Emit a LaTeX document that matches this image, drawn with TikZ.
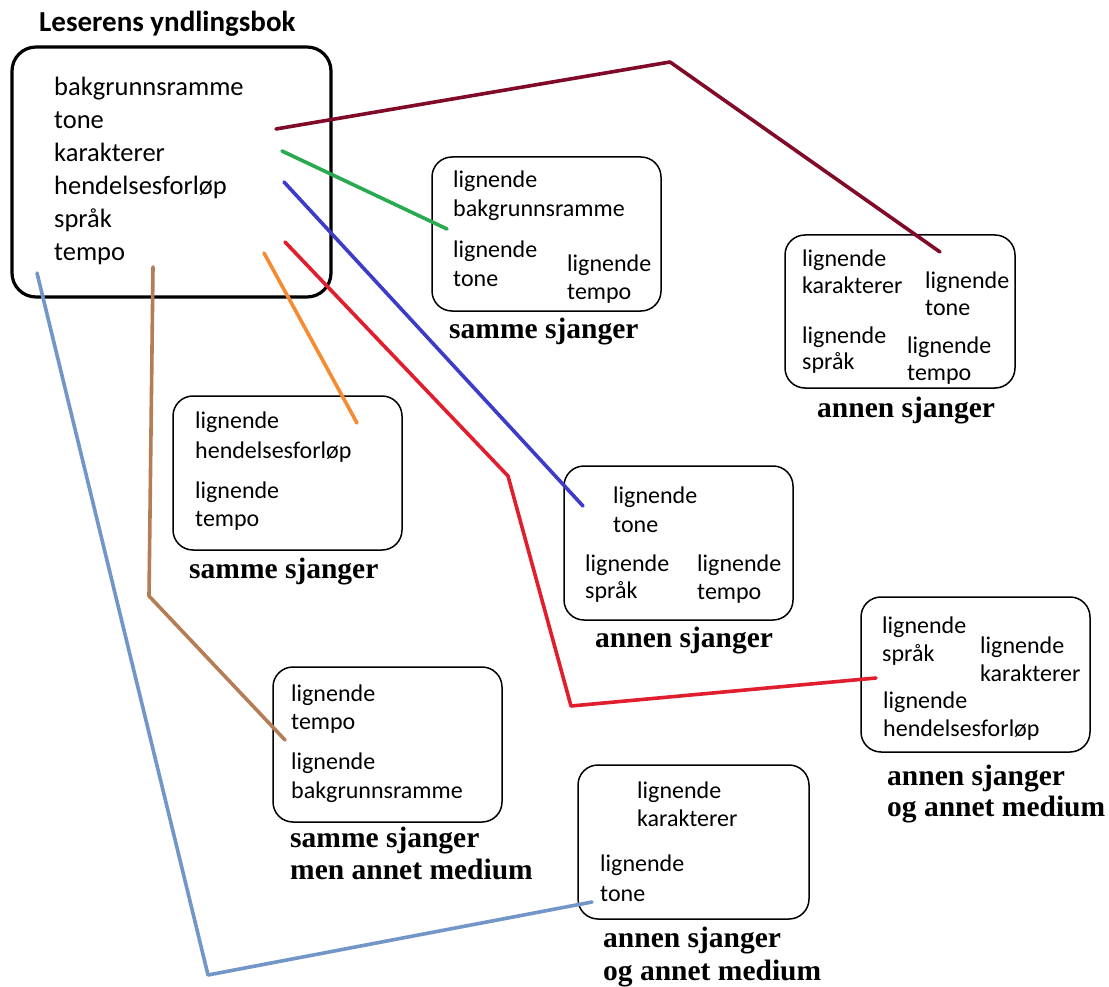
\documentclass[tikz,border=0pt]{standalone}
\usepackage{fontspec}
\setmainfont{Liberation Serif}
\newfontfamily\bodyfont{Carlito}

\definecolor{cTone}{RGB}{128,10,40}
\definecolor{cKar}{RGB}{40,170,80}
\definecolor{cHend}{RGB}{60,60,200}
\definecolor{cSprak}{RGB}{225,30,45}
\definecolor{cTempo}{RGB}{245,140,50}
\definecolor{cBrun}{RGB}{180,125,85}
\definecolor{cStal}{RGB}{115,150,200}

\begin{document}
\begin{tikzpicture}[x=1pt,y=-1pt,
  txt/.style={anchor=base west, inner sep=0pt, font=\bodyfont\fontsize{24}{29}\selectfont},
  maintxt/.style={anchor=base west, inner sep=0pt, font=\bodyfont\fontsize{26.5}{32}\selectfont},
  titletxt/.style={anchor=base west, inner sep=0pt, font=\bodyfont\bfseries\fontsize{29}{34}\selectfont},
  lbl/.style={anchor=base west, inner sep=0pt, font=\bfseries\fontsize{29.5}{32}\selectfont},
  frame/.style={draw, line width=1.5pt, rounded corners=20pt},
  mainframe/.style={draw, line width=3.2pt, rounded corners=24pt},
  link/.style={line width=3.6pt, line join=round, line cap=round}]

\useasboundingbox[fill=white] (0,0) rectangle (1109,987);

% --- main box -----------------------------------------------------------
\node[titletxt] (title) at (39,32) {Leserens yndlingsbok};
\draw[mainframe] (12,47) rectangle (331,297);
\node[maintxt] (m1) at (54,96)  {bakgrunnsramme};
\node[maintxt] (m2) at (54,129) {tone};
\node[maintxt] (m3) at (54,162) {karakterer};
\node[maintxt] (m4) at (54,195) {hendelsesforløp};
\node[maintxt] (m5) at (54,228) {språk};
\node[maintxt] (m6) at (54,261) {tempo};

% --- box A: samme sjanger -----------------------------------------------
\draw[frame] (432,157) rectangle (661,311);
\node[txt] (a1) at (453,188) {lignende};
\node[txt] (a2) at (453,217) {bakgrunnsramme};
\node[txt] (a3) at (453,258) {lignende};
\node[txt] (a4) at (453,287) {tone};
\node[txt] (a5) at (567,272) {lignende};
\node[txt] (a6) at (567,299) {tempo};
\node[lbl] (la) at (449,338) {samme sjanger};

% --- box B: annen sjanger -----------------------------------------------
\draw[frame] (785,235) rectangle (1015,388);
\node[txt] (b1) at (802,266) {lignende};
\node[txt] (b2) at (802,294) {karakterer};
\node[txt] (b3) at (925,288) {lignende};
\node[txt] (b4) at (925,316) {tone};
\node[txt] (b5) at (802,343) {lignende};
\node[txt] (b6) at (802,369) {språk};
\node[txt] (b7) at (907,353) {lignende};
\node[txt] (b8) at (907,380) {tempo};
\node[lbl] (lb) at (817,417) {annen sjanger};

% --- box C: samme sjanger -----------------------------------------------
\draw[frame] (173,396) rectangle (402,550);
\node[txt] (c1) at (195,428) {lignende};
\node[txt] (c2) at (195,458) {hendelsesforløp};
\node[txt] (c3) at (195,498) {lignende};
\node[txt] (c4) at (195,526) {tempo};
\node[lbl] (lc) at (189,578) {samme sjanger};

% --- box D: annen sjanger -----------------------------------------------
\draw[frame] (564,466) rectangle (793,620);
\node[txt] (d1) at (613,503) {lignende};
\node[txt] (d2) at (613,532) {tone};
\node[txt] (d3) at (585,571) {lignende};
\node[txt] (d4) at (585,598) {språk};
\node[txt] (d5) at (697,571) {lignende};
\node[txt] (d6) at (697,599) {tempo};
\node[lbl] (ld) at (595,647) {annen sjanger};

% --- box E: annen sjanger og annet medium -------------------------------
\draw[frame] (861,597) rectangle (1090,752);
\node[txt] (e1) at (882,633) {lignende};
\node[txt] (e2) at (882,661) {språk};
\node[txt] (e3) at (980,653) {lignende};
\node[txt] (e4) at (980,681) {karakterer};
\node[txt] (e5) at (883,708) {lignende};
\node[txt] (e6) at (883,736) {hendelsesforløp};
\node[lbl] (le1) at (887,785) {annen sjanger};
\node[lbl] (le2) at (887,816) {og annet medium};

% --- box F: samme sjanger men annet medium ------------------------------
\draw[frame] (273,667) rectangle (502,822);
\node[txt] (f1) at (291,701) {lignende};
\node[txt] (f2) at (291,729) {tempo};
\node[txt] (f3) at (291,769) {lignende};
\node[txt] (f4) at (291,798) {bakgrunnsramme};
\node[lbl] (lf1) at (290,847) {samme sjanger};
\node[lbl] (lf2) at (290,879) {men annet medium};

% --- box G: annen sjanger og annet medium -------------------------------
\draw[frame] (578,765) rectangle (809,919);
\node[txt] (g1) at (637,798) {lignende};
\node[txt] (g2) at (637,826) {karakterer};
\node[txt] (g3) at (600,871) {lignende};
\node[txt] (g4) at (600,901) {tone};
\node[lbl] (lg1) at (603,947) {annen sjanger};
\node[lbl] (lg2) at (603,980) {og annet medium};

% --- connector end points and bends -------------------------------------
\coordinate (tone-s)  at (276,129);
\coordinate (tone-k)  at (670,62);
\coordinate (tone-e)  at (940,252);
\coordinate (kar-s)   at (282,151);
\coordinate (kar-e)   at (447,229);
\coordinate (hend-s)  at (284,182);
\coordinate (hend-e)  at (583,506);
\coordinate (sprak-s) at (285,242);
\coordinate (sprak-k1) at (508,476);
\coordinate (sprak-k2) at (571,706);
\coordinate (sprak-e) at (876,678);
\coordinate (tempo-s) at (264,253);
\coordinate (tempo-e) at (357,423);
\coordinate (brun-s)  at (153,267);
\coordinate (brun-k)  at (149,596);
\coordinate (brun-e)  at (285,740);
\coordinate (stal-s)  at (37,273);
\coordinate (stal-k)  at (208,975);
\coordinate (stal-e)  at (592,902);

% --- connectors ---------------------------------------------------------
\draw[link, cTone]  (tone-s) -- (tone-k) -- (tone-e);
\draw[link, cKar]   (kar-s) -- (kar-e);
\draw[link, cHend]  (hend-s) -- (hend-e);
\draw[link, cSprak] (sprak-s) -- (sprak-k1) -- (sprak-k2) -- (sprak-e);
\draw[link, cTempo] (tempo-s) -- (tempo-e);
\draw[link, cBrun]  (brun-s) -- (brun-k) -- (brun-e);
\draw[link, cStal]  (stal-s) -- (stal-k) -- (stal-e);

\end{tikzpicture}
\end{document}
